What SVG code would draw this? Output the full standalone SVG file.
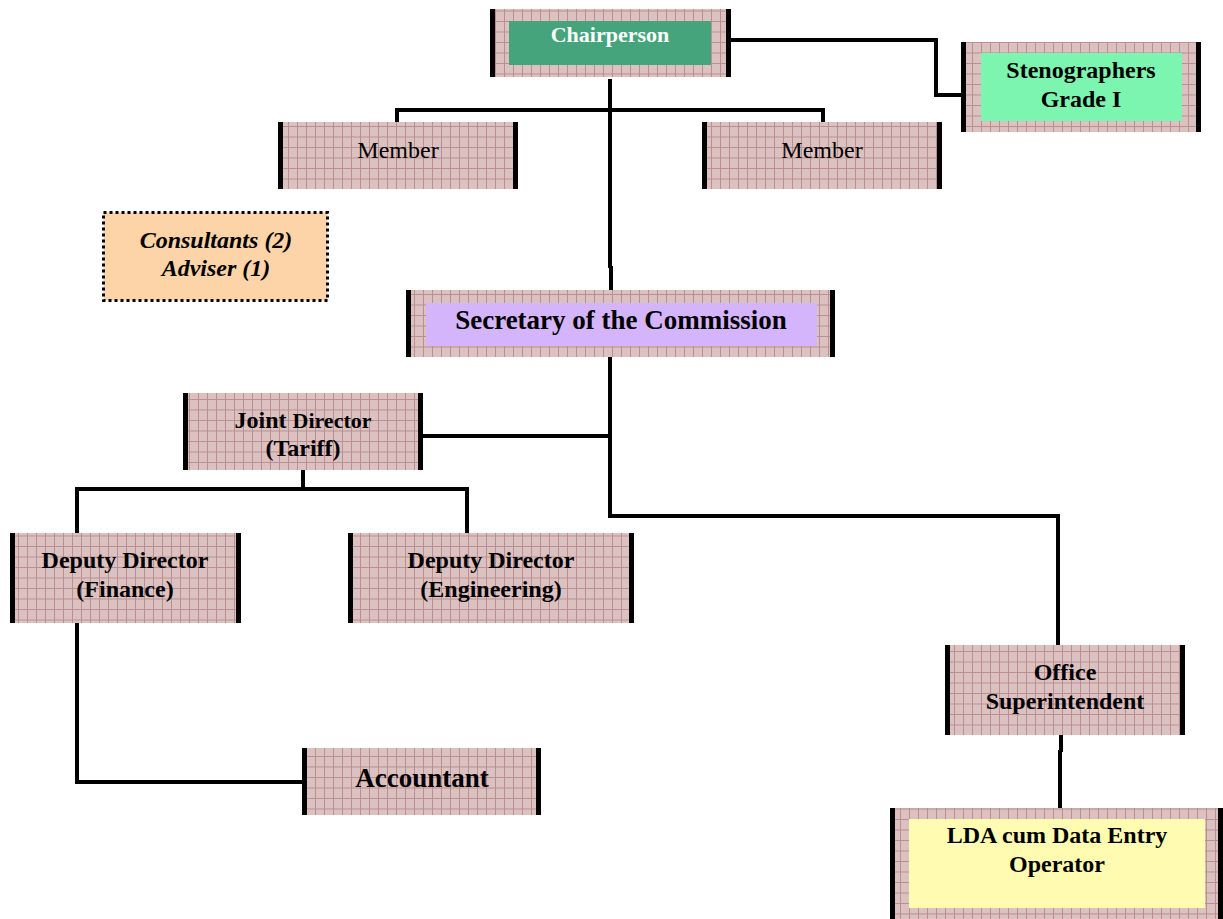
<svg xmlns="http://www.w3.org/2000/svg" width="1223" height="919" viewBox="0 0 1223 919">
<style>
.box{fill:url(#grid)}
.bar{stroke:#000;stroke-width:5}
.t{font-family:"Liberation Serif","Times New Roman",serif;font-weight:bold;font-size:24px;text-anchor:middle;fill:#000}
.r{font-weight:normal}
.c{fill:none;stroke:#000;stroke-width:4}
</style>
<defs>
<pattern id="grid" width="9" height="10.5" patternUnits="userSpaceOnUse">
<rect width="9" height="10.5" fill="#dcc1c1"/>
<path d="M0.5 0V10.5M0 0.5H9" stroke="#bb8f8f" stroke-width="1"/>
</pattern>
</defs>
<rect width="1223" height="919" fill="#fff"/>

<g id="connectors">
<path class="c" d="M731 40H936V95H962"/>
<path class="c" d="M610 79V268M611 266V290"/>
<path class="c" d="M397 122V110H823V122"/>
<path class="c" d="M610 357V516H1058V645"/>
<path class="c" d="M423 436H610"/>
<path class="c" d="M303 470V489M77 533V489H467V533"/>
<path class="c" d="M77 623V782H302"/>
<path class="c" d="M1061 735V752M1060 750V808"/>
</g>

<g id="chairperson">
<rect class="box" x="490" y="9" width="241" height="68"/>
<rect x="509" y="21" width="202" height="44" fill="#45a47b"/>
<line class="bar" x1="492.5" y1="9" x2="492.5" y2="77"/>
<line class="bar" x1="728.5" y1="9" x2="728.5" y2="77"/>
<text class="t" x="610" y="42" style="fill:#fff;font-size:22px">Chairperson</text>
</g>

<g id="stenographers">
<rect class="box" x="962" y="42" width="239" height="90"/>
<rect x="981" y="53" width="201" height="68" fill="#7cf5b0"/>
<line class="bar" x1="963.5" y1="42" x2="963.5" y2="132"/>
<line class="bar" x1="1198.5" y1="42" x2="1198.5" y2="132"/>
<text class="t" x="1081" y="78">Stenographers</text>
<text class="t" x="1081" y="107">Grade I</text>
</g>

<g id="member1">
<rect class="box" x="278" y="122" width="240" height="67"/>
<line class="bar" x1="280.5" y1="122" x2="280.5" y2="189"/>
<line class="bar" x1="515.5" y1="122" x2="515.5" y2="189"/>
<text class="t r" x="398" y="158">Member</text>
</g>

<g id="member2">
<rect class="box" x="702" y="122" width="240" height="67"/>
<line class="bar" x1="704.5" y1="122" x2="704.5" y2="189"/>
<line class="bar" x1="939.5" y1="122" x2="939.5" y2="189"/>
<text class="t r" x="822" y="158">Member</text>
</g>

<g id="consultants">
<rect x="103.5" y="212.5" width="224" height="88" fill="#fdd3a8" stroke="#000" stroke-width="3" stroke-dasharray="3 3"/>
<text class="t" x="216" y="248" style="font-style:italic">Consultants (2)</text>
<text class="t" x="216" y="276" style="font-style:italic">Adviser (1)</text>
</g>

<g id="secretary">
<rect class="box" x="406" y="290" width="429" height="67"/>
<rect x="426" y="303" width="391" height="43" fill="#d4b4fb"/>
<line class="bar" x1="408.5" y1="290" x2="408.5" y2="357"/>
<line class="bar" x1="832.5" y1="290" x2="832.5" y2="357"/>
<text class="t" x="621" y="329" style="font-size:27px">Secretary of the Commission</text>
</g>

<g id="joint-director">
<rect class="box" x="183" y="393" width="240" height="77"/>
<line class="bar" x1="185.5" y1="393" x2="185.5" y2="470"/>
<line class="bar" x1="420.5" y1="393" x2="420.5" y2="470"/>
<text class="t" x="303" y="428"><tspan style="font-size:24px">Joint </tspan><tspan style="font-size:22px">Director</tspan></text>
<text class="t" x="303" y="456">(Tariff)</text>
</g>

<g id="dd-finance">
<rect class="box" x="10" y="533" width="231" height="90"/>
<line class="bar" x1="12.5" y1="533" x2="12.5" y2="623"/>
<line class="bar" x1="238.5" y1="533" x2="238.5" y2="623"/>
<text class="t" x="125" y="568">Deputy Director</text>
<text class="t" x="125" y="597">(Finance)</text>
</g>

<g id="dd-engineering">
<rect class="box" x="348" y="533" width="286" height="90"/>
<line class="bar" x1="350.5" y1="533" x2="350.5" y2="623"/>
<line class="bar" x1="631.5" y1="533" x2="631.5" y2="623"/>
<text class="t" x="491" y="568">Deputy Director</text>
<text class="t" x="491" y="597">(Engineering)</text>
</g>

<g id="accountant">
<rect class="box" x="302" y="748" width="239" height="67"/>
<line class="bar" x1="304.5" y1="748" x2="304.5" y2="815"/>
<line class="bar" x1="538.5" y1="748" x2="538.5" y2="815"/>
<text class="t" x="422" y="787" style="font-size:27px">Accountant</text>
</g>

<g id="office-superintendent">
<rect class="box" x="946" y="645" width="239" height="90"/>
<line class="bar" x1="947.5" y1="645" x2="947.5" y2="735"/>
<line class="bar" x1="1182.5" y1="645" x2="1182.5" y2="735"/>
<text class="t" x="1065" y="680">Office</text>
<text class="t" x="1065" y="709">Superintendent</text>
</g>

<g id="lda">
<rect class="box" x="890" y="808" width="333" height="111"/>
<rect x="909" y="819" width="296" height="89" fill="#fffbb0"/>
<line class="bar" x1="892.5" y1="808" x2="892.5" y2="919"/>
<line class="bar" x1="1220.5" y1="808" x2="1220.5" y2="919"/>
<text class="t" x="1057" y="843">LDA cum Data Entry</text>
<text class="t" x="1057" y="872">Operator</text>
</g>
</svg>
